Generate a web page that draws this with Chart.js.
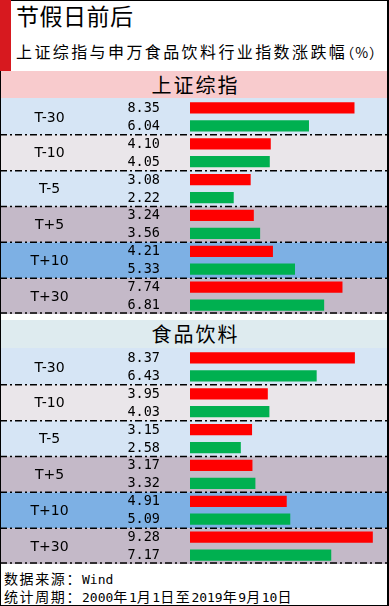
<!DOCTYPE html>
<html>
<head>
<meta charset="utf-8">
<script src="https://cdn.jsdelivr.net/npm/chart.js@4.4.0/dist/chart.umd.min.js"></script>
<style>
body { margin: 0; background: #fff; }
#page { position: relative; width: 389px; height: 606px; overflow: hidden; font-family: "Noto Sans CJK SC", sans-serif; color: #000; }
.abs { position: absolute; }
#frame { left: 0; top: 0; width: 389px; height: 606px; box-sizing: border-box; border: 1px solid #000; border-right-width: 2px; pointer-events: none; z-index: 2; }
#mark { left: 0; top: 0; width: 11px; height: 71px; background: #d7191f; z-index: 3; }
#title { left: 16px; top: 4px; font-size: 23px; line-height: 23px; letter-spacing: 0.5px; white-space: nowrap; }
#subtitle { left: 16px; top: 43px; font-size: 16px; line-height: 16px; letter-spacing: 2.4px; white-space: nowrap; }
#subtitle .u { font-feature-settings: "halt"; letter-spacing: 1px; font-size: 14px; }
.head { left: 0; width: 389px; text-align: center; font-size: 20px; letter-spacing: 2px; padding-left: 2px; box-sizing: border-box; }
#head1 { top: 71px; height: 27px; line-height: 27px; background: #f8cbcd; }
#head2 { top: 320px; height: 28px; line-height: 28px; background: #deebef; }
canvas { position: absolute; left: 0; }
#c1 { top: 98px; }
#c2 { top: 348px; }
.foot { left: 4px; font-size: 14px; line-height: 14px; letter-spacing: 1.6px; white-space: nowrap; }
.foot .m { font-family: "DejaVu Sans Mono", monospace; font-size: 13px; letter-spacing: 0; }
</style>
</head>
<body>
<div id="page">
  <div id="mark" class="abs"></div>
  <div id="title" class="abs">节假日前后</div>
  <div id="subtitle" class="abs">上证综指与申万食品饮料行业指数涨跌幅<span class="u">（%）</span></div>
  <div id="head1" class="abs head">上证综指</div>
  <canvas id="c1" width="389" height="216"></canvas>
  <div id="head2" class="abs head">食品饮料</div>
  <canvas id="c2" width="389" height="216"></canvas>
  <div class="abs foot" style="top:571px">数据来源：<span class="m">Wind</span></div>
  <div class="abs foot" style="top:589px">统计周期：<span class="m">2000</span>年<span class="m">1</span>月<span class="m">1</span>日至<span class="m">2019</span>年<span class="m">9</span>月<span class="m">10</span>日</div>
  <div id="frame" class="abs"></div>
</div>
<script>
const categories = ['T-30', 'T-10', 'T-5', 'T+5', 'T+10', 'T+30'];

// 上证综指
const shRed = [8.35, 4.10, 3.08, 3.24, 4.21, 7.74];
const shGreen = [6.04, 4.05, 2.22, 3.56, 5.33, 6.81];

// 食品饮料
const foodRed = [8.37, 3.95, 3.15, 3.17, 4.91, 9.28];
const foodGreen = [6.43, 4.03, 2.58, 3.32, 5.09, 7.17];

const bandColors = ['#d6e5f5', '#eae6ea', '#d6e5f5', '#c4b9c8', '#7db0e4', '#c4b9c8'];

const tablePlugin = {
    id: 'table',
    beforeDatasetsDraw(chart) {
        const ctx = chart.ctx;
        const y = chart.scales.y;
        const w = chart.width, h = chart.height;
        const step = y.getPixelForValue(1) - y.getPixelForValue(0);

        // row backgrounds
        categories.forEach((c, i) => {
            const top = i === 0 ? 0 : y.getPixelForValue(i) - step / 2;
            const bottom = i === categories.length - 1 ? h : y.getPixelForValue(i) + step / 2;
            ctx.fillStyle = bandColors[i];
            ctx.fillRect(0, top, w, bottom - top);
        });

        // dash-dot separators
        ctx.save();
        ctx.strokeStyle = '#000';
        ctx.lineWidth = 1.5;
        ctx.setLineDash([7, 3, 2, 3]);
        categories.forEach((c, i) => {
            let yy = y.getPixelForValue(i) + step / 2;
            if (i === categories.length - 1) yy = h - 1;
            ctx.beginPath();
            ctx.moveTo(0, yy);
            ctx.lineTo(w, yy);
            ctx.stroke();
        });
        ctx.restore();

        // category labels
        ctx.fillStyle = '#000';
        ctx.textBaseline = 'middle';
        ctx.textAlign = 'center';
        ctx.font = '14px "DejaVu Sans"';
        categories.forEach((c, i) => {
            ctx.fillText(c, 49.5, y.getPixelForValue(i) + 1);
        });

        // values
        ctx.textAlign = 'right';
        ctx.font = '13.5px "DejaVu Sans Mono"';
        chart.data.datasets.forEach((ds, d) => {
            chart.getDatasetMeta(d).data.forEach((bar, i) => {
                ctx.fillText(ds.data[i].toFixed(2), 160, bar.y + 0.5);
            });
        });
    }
};

function makeTable(id, redVals, greenVals) {
    new Chart(document.getElementById(id), {
        type: 'bar',
        data: {
            labels: categories,
            datasets: [
                { data: redVals, backgroundColor: '#ff0000', categoryPercentage: 1, barPercentage: 0.63 },
                { data: greenVals, backgroundColor: '#00b050', categoryPercentage: 1, barPercentage: 0.63 }
            ]
        },
        options: {
            indexAxis: 'y',
            responsive: false,
            animation: false,
            devicePixelRatio: 1,
            layout: { padding: { left: 190, right: 2, top: 1, bottom: 0 } },
            scales: {
                x: { display: false, min: 0, max: 10 },
                y: { display: false }
            },
            plugins: {
                legend: { display: false },
                tooltip: { enabled: false }
            }
        },
        plugins: [tablePlugin]
    });
}

makeTable('c1', shRed, shGreen);
makeTable('c2', foodRed, foodGreen);
</script>
</body>
</html>
